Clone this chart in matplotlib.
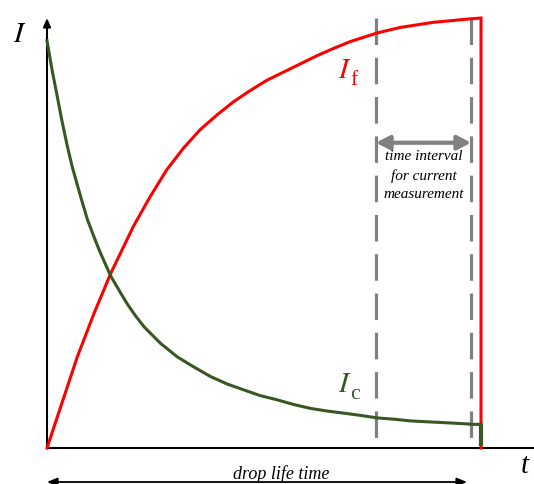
import matplotlib
matplotlib.use("Agg")
import matplotlib.pyplot as plt

plt.rcParams['mathtext.fontset'] = 'stix'

# ---- data: time in % of drop life time, current in % of maximum ----
t_c = [0.0, 1.15, 2.37, 3.46, 4.68, 5.76, 6.98, 8.06, 9.29, 10.83, 12.21,
       14.68, 16.82, 18.50, 20.28, 22.35, 26.20, 30.02, 33.41, 37.72, 41.47,
       45.39, 49.08, 53.06, 56.91, 60.76, 64.52, 68.43, 72.12, 76.11, 79.95,
       83.80, 87.56, 91.47, 95.16, 98.39, 100.0]
I_c = [94.7, 88.0, 81.7, 76.0, 70.2, 65.6, 61.2, 57.4, 53.2, 49.1, 45.6,
       40.0, 36.3, 33.5, 30.9, 28.2, 24.3, 21.2, 19.1, 16.6, 14.9,
       13.5, 12.2, 11.2, 10.1, 9.2, 8.6, 8.1, 7.6, 7.0, 6.7,
       6.3, 6.1, 5.9, 5.7, 5.5, 5.5]

t_f = [0.0, 3.16, 6.98, 10.83, 14.68, 19.88, 23.73, 27.58, 31.41, 35.25,
       39.10, 42.93, 46.77, 50.62, 54.45, 58.29, 62.14, 65.97, 69.82, 75.97,
       81.34, 89.01, 97.47, 100.0]
I_f = [0.0, 9.6, 21.2, 31.3, 40.6, 51.5, 58.4, 64.7, 69.7, 74.0,
       77.4, 80.5, 83.1, 85.5, 87.4, 89.3, 91.2, 92.9, 94.5, 96.5,
       97.8, 99.0, 99.8, 100.0]

t_drop = 100.0
interval = [75.81, 97.70]
interval_lines = ["time interval", "for current", "measurement"]

RED = '#FF0000'
GREEN = '#385723'
GREY = '#808080'

fig = plt.figure(figsize=(5.34, 4.84), dpi=100)
ax = fig.add_axes([0, 0, 1, 1])
ax.set_xlim(-10.83, 112.21)
ax.set_ylim(-8.37, 104.19)
ax.axis('off')

# axes
ax.annotate('', xy=(0, 100.0), xytext=(0, 0),
            arrowprops=dict(arrowstyle='-|>,head_length=0.5,head_width=0.22',
                            color='black', lw=1.5, shrinkA=0, shrinkB=0,
                            mutation_scale=10))
ax.plot([0, 120], [0, 0], color='black', lw=1.5, solid_capstyle='butt', zorder=2)

# dashed interval lines
for x in interval:
    ax.plot([x, x], [100.0, 0], color=GREY, lw=2.3,
            linestyle=(0, (8.3, 4.0)), zorder=1)

# curves
ax.plot(t_f + [t_drop], I_f + [0.0], color=RED, lw=2.2, zorder=3,
        solid_joinstyle='miter')
ax.plot(t_c, I_c, color=GREEN, lw=2.2, zorder=4, solid_joinstyle='round')
ax.plot([t_drop, t_drop], [I_c[-1], 0.5], color=GREEN, lw=3.0, zorder=4,
        solid_capstyle='butt')

# interval arrow
ax.annotate('', xy=(interval[1], 71.0), xytext=(interval[0], 71.0),
            arrowprops=dict(arrowstyle='<|-|>,head_length=0.8,head_width=0.42',
                            color=GREY, lw=3, shrinkA=0, shrinkB=0,
                            mutation_scale=10))
ys = [67.74, 63.33, 59.07]
for s, y in zip(interval_lines, ys):
    ax.text(sum(interval) / 2, y, s, ha='center', va='center',
            family='Liberation Serif', style='italic', fontsize=11)

# drop life time arrow
ax.annotate('', xy=(96.77, -7.91), xytext=(0, -7.91),
            arrowprops=dict(arrowstyle='<|-|>,head_length=0.6,head_width=0.25',
                            color='black', lw=1.3, shrinkA=0, shrinkB=0,
                            mutation_scale=10), annotation_clip=False)
ax.text(54.03, -6.16, 'drop life time', ha='center', va='center',
        family='Liberation Serif', style='italic', fontsize=13)

# labels
def sub_label(x, y, main, sub, color):
    ax.text(x, y, r'$' + main + r'$', fontsize=21, color=color,
            ha='left', va='baseline')
    ax.annotate(sub, xy=(x, y), xytext=(8.6, -5.2), textcoords='offset points',
                fontsize=15.5, color=color, family='Liberation Serif',
                ha='left', va='baseline')

ax.text(-7.83, 94.42, r'$I$', fontsize=21, ha='left', va='baseline')
sub_label(67.05, 86.16, 'I', 'f', RED)
sub_label(67.05, 13.02, 'I', 'c', GREEN)
ax.text(110.0, -4.3, 't', fontsize=21, family='Liberation Serif',
        style='italic', ha='center', va='center')

fig.savefig('out.png', dpi=100)
